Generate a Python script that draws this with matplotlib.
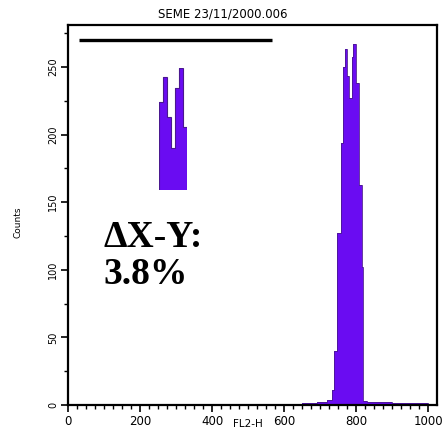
import matplotlib
matplotlib.use("Agg")
import matplotlib.pyplot as plt
import numpy as np

# ---- data ----
title = "SEME 23/11/2000.006"
edges = [615, 650, 690, 720, 733, 738, 746, 757, 762, 768, 773, 780, 787, 791,
         799, 808, 815, 819, 830, 900, 1000]
counts = [1, 1.5, 2, 4, 11, 40, 127, 194, 250, 263, 243, 227, 257, 267,
          238, 163, 102, 3, 2, 1.5]
inset_edges = [0, 4, 7.4, 11.4, 15.7, 20, 23.4, 27.4]
inset_counts = [88, 113, 73, 42, 102, 122, 63]
xticks = [0, 200, 400, 600, 800, 1000]
yticks = [0, 50, 100, 150, 200, 250]
annot = "\u0394X-Y:\n3.8%"

fill = "#6a0cf2"
edge = "#4a1890"

fig = plt.figure(figsize=(4.45, 4.30), dpi=100)
ax = fig.add_axes([68/445, 1-405/430, (437-68)/445, (405-25)/430])
ax.stairs(counts, edges, fill=True, facecolor=fill, edgecolor=fill, linewidth=0)
ax.stairs(counts, edges, fill=False, edgecolor=edge, linewidth=0.6)
ax.set_xlim(0, 1024)
ax.set_ylim(0, 281)
ax.set_xticks(xticks)
ax.set_xticklabels([str(t) for t in xticks], fontsize=8.5)
ax.set_xticks(np.arange(0, 1025, 25), minor=True)
ax.set_yticks(yticks)
ax.set_yticklabels([str(t) for t in yticks], fontsize=7, rotation=90, va='center')
ax.set_yticks(np.arange(0, 281, 25), minor=True)
ax.tick_params(axis='both', which='major', length=5, width=1.2, direction='out', pad=2)
ax.tick_params(axis='both', which='minor', length=3, width=1.0, direction='out')
for s in ax.spines.values():
    s.set_linewidth(1.6)

# black bar at top
ax.plot([30, 566], [270, 270], color='black', linewidth=2.4, solid_capstyle='butt')

# inset peak
iax = fig.add_axes([159.3/445, 1-190/430, 27.4/445, 122/430])
iax.stairs(inset_counts, inset_edges, fill=True, facecolor=fill, edgecolor=fill, linewidth=0)
iax.stairs(inset_counts, inset_edges, fill=False, edgecolor=edge, linewidth=0.8)
iax.set_xlim(inset_edges[0], inset_edges[-1])
iax.set_ylim(0, 122)
iax.axis('off')

fig.text(0.5, 1-14/430, title, ha='center', va='center', fontsize=8.5)
fig.text(103/445, 1-256/430, annot, ha='left', va='center', fontsize=27,
         family='Liberation Serif', weight='bold', linespacing=1.05)
fig.text(18/445, 1-222/430, "Counts", rotation=90, ha='center', va='center', fontsize=6.5)
fig.text(248/445, 0.002, "FL2-H", ha='center', va='bottom', fontsize=7.5)

fig.savefig("out.png", dpi=100)
